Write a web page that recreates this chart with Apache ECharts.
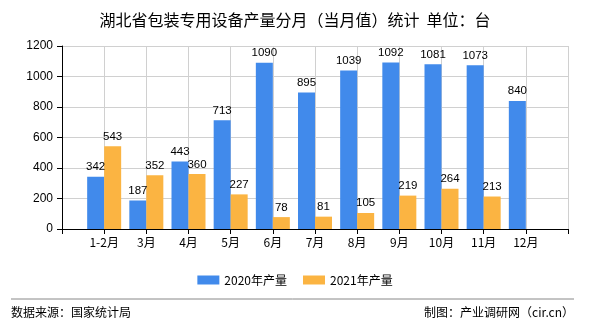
<!DOCTYPE html>
<html>
<head>
<meta charset="utf-8">
<script src="https://cdn.jsdelivr.net/npm/echarts@6/dist/echarts.min.js"></script>
<style>html,body{margin:0;padding:0;background:#fff}#c{width:590px;height:330px}</style>
</head>
<body>
<div id="c"></div>
<script>
const titleText = '湖北省包装专用设备产量分月（当月值）统计  单位：台';
const months = ['1-2月','3月','4月','5月','6月','7月','8月','9月','10月','11月','12月'];
const v2020 = [342,187,443,713,1090,895,1039,1092,1081,1073,840];
const v2021 = [543,352,360,227,78,81,105,219,264,213,null];
const seriesNames = ['2020年产量','2021年产量'];
const yTicks = {min:0, max:1200, interval:200};
const sourceText = '数据来源：国家统计局';
const creditText = '制图：产业调研网（cir.cn）';

const cats = [''].concat(months, ['']);
const pad = a => [null].concat(a, [null]);
const FONT = '"Liberation Sans", "Noto Sans CJK SC", sans-serif';
const CJK = '"Noto Sans CJK SC", sans-serif';

const chart = echarts.init(document.getElementById('c'));
chart.setOption({
  animation: false,
  textStyle: {fontFamily: FONT},
  title: {
    text: titleText, left: 'center', top: 7,
    textStyle: {fontFamily: CJK, fontSize: 16, fontWeight: 'normal', color: '#000'}
  },
  legend: {
    data: seriesNames, left: 'center', top: 269,
    itemWidth: 22, itemHeight: 9, itemGap: 16,
    textStyle: {fontFamily: CJK, fontSize: 12, color: '#000'},
    icon: 'rect'
  },
  grid: {left: 62, right: 22, top: 46, bottom: 101, containLabel: false},
  xAxis: {
    type: 'category', data: cats, boundaryGap: false,
    axisLine: {lineStyle: {color: '#000', width: 1}},
    axisTick: {show: true, interval: 0, length: 5, lineStyle: {color: '#000'}},
    axisLabel: {interval: 0, color: '#000', fontSize: 12, fontFamily: CJK, margin: 7},
    splitLine: {show: true, interval: 0, lineStyle: {color: '#d0d0d0'}}
  },
  yAxis: {
    type: 'value', min: yTicks.min, max: yTicks.max, interval: yTicks.interval,
    axisLine: {show: true, lineStyle: {color: '#000', width: 1}},
    axisTick: {show: true, length: 5, lineStyle: {color: '#000'}},
    axisLabel: {color: '#000', fontSize: 12, margin: 9, formatter: v => String(v)},
    splitLine: {show: true, lineStyle: {color: '#d0d0d0'}}
  },
  series: [
    {
      name: seriesNames[0], type: 'bar', data: pad(v2020),
      barWidth: 17, barGap: '0%',
      itemStyle: {color: '#418aeb'},
      label: {show: true, position: 'top', distance: 4, color: '#000', fontSize: 11.5}
    },
    {
      name: seriesNames[1], type: 'bar', data: pad(v2021),
      barWidth: 17, barGap: '0%',
      itemStyle: {color: '#fbb442'},
      label: {show: true, position: 'top', distance: 4, color: '#000', fontSize: 11.5}
    }
  ],
  graphic: [
    {type: 'line', shape: {x1: 11, y1: 299, x2: 574, y2: 299}, style: {stroke: '#888', lineWidth: 1}},
    {type: 'text', left: 11, top: 306, style: {text: sourceText, fontFamily: CJK, fontSize: 12, fill: '#000'}},
    {type: 'text', right: 16, top: 306, style: {text: creditText, fontFamily: CJK, fontSize: 12, fill: '#000'}}
  ]
});
</script>
</body>
</html>
